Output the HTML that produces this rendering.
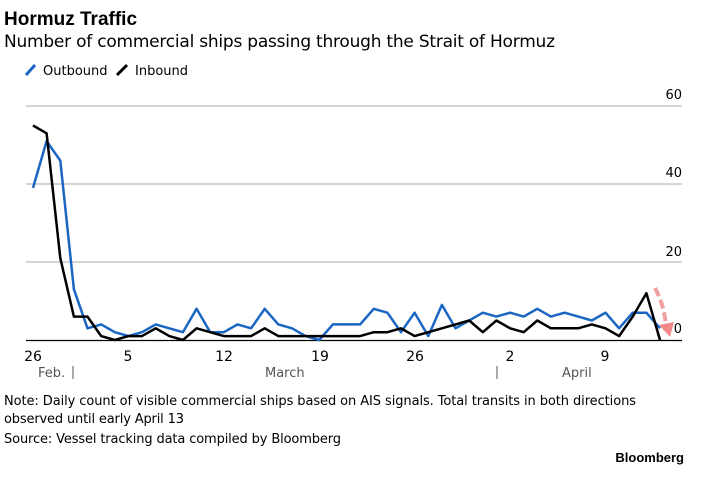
<!DOCTYPE html><html><head><style>body{margin:0;background:#fff;width:714px;height:473px;overflow:hidden;font-family:"Liberation Sans",sans-serif}</style></head><body>
<svg width="714" height="473" xmlns="http://www.w3.org/2000/svg" font-family="Liberation Sans, sans-serif">
<text x="4" y="25" font-size="19" font-weight="bold" fill="#000">Hormuz Traffic</text>
<text x="4" y="47" font-size="17" fill="#000" font-family="DejaVu Sans, sans-serif" textLength="551">Number of commercial ships passing through the Strait of Hormuz</text>
<line x1="26" y1="75" x2="35" y2="65" stroke="#1a66c2" stroke-width="3"/>
<text x="43" y="75" font-size="13" font-family="DejaVu Sans, sans-serif">Outbound</text>
<line x1="117" y1="75" x2="127" y2="65" stroke="#000" stroke-width="3"/>
<text x="135" y="75" font-size="13" font-family="DejaVu Sans, sans-serif">Inbound</text>
<g stroke="#bbb" stroke-width="1.3"><line x1="26" y1="106" x2="682" y2="106"/><line x1="26" y1="184" x2="682" y2="184"/><line x1="26" y1="262" x2="682" y2="262"/></g>
<g font-size="13" font-family="DejaVu Sans, sans-serif" text-anchor="end"><text x="682" y="99">60</text><text x="682" y="177">40</text><text x="682" y="256">20</text><text x="682" y="333">0</text></g>
<line x1="26" y1="340.5" x2="682" y2="340.5" stroke="#000" stroke-width="1.3"/>
<g id="t" stroke="#000" stroke-width="1"></g>
<g font-size="14" font-family="DejaVu Sans, sans-serif" text-anchor="middle"><text x="33" y="361">26</text><text x="128" y="361">5</text><text x="224" y="361">12</text><text x="320" y="361">19</text><text x="415" y="361">26</text><text x="510" y="361">2</text><text x="605" y="361">9</text></g>
<g font-size="13" font-family="DejaVu Sans, sans-serif" fill="#555"><text x="38" y="377">Feb.</text><text x="265" y="377">March</text><text x="562" y="377">April</text></g>
<line x1="73" y1="366" x2="73" y2="379" stroke="#555"/><line x1="497" y1="366" x2="497" y2="379" stroke="#555"/>
<polyline id="b" fill="none" stroke="#1a66c2" stroke-width="2.5" stroke-linejoin="round"/>
<polyline id="k" fill="none" stroke="#000" stroke-width="2.5" stroke-linejoin="round"/>
<path d="M655 288 Q664 305 666 325" stroke="#e88" stroke-width="4" stroke-dasharray="9,4" fill="none" opacity="0.8"/>
<polygon points="659,325 674,322 670,337" fill="#e77" opacity="0.85"/>
<g font-size="13" font-family="DejaVu Sans, sans-serif"><text x="4" y="405" textLength="632">Note: Daily count of visible commercial ships based on AIS signals. Total transits in both directions</text><text x="4" y="423" textLength="180">observed until early April 13</text><text x="4" y="443" textLength="337">Source: Vessel tracking data compiled by Bloomberg</text></g>
<text x="684" y="462" font-size="13" font-weight="bold" text-anchor="end">Bloomberg</text>
<script>
var B=[39,51,46,13,3,4,2,1,2,4,3,2,8,2,2,4,3,8,4,3,1,0,4,4,4,8,7,2,7,1,9,3,5,7,6,7,6,8,6,7,6,5,7,3,7,7,3];
var K=[55,53,21,6,6,1,0,1,1,3,1,0,3,2,1,1,1,3,1,1,1,1,1,1,1,2,2,3,1,2,3,4,5,2,5,3,2,5,3,3,3,4,3,1,6,12,0];
function p(a){return a.map(function(v,i){return (33+i*13.63).toFixed(1)+','+(340-v*3.9).toFixed(1)}).join(' ')}
document.getElementById('b').setAttribute('points',p(B));
document.getElementById('k').setAttribute('points',p(K));
var t='';for(var i=0;i<47;i++){var x=33+i*13.63;t+='<line x1="'+x+'" y1="340" x2="'+x+'" y2="345"/>';}
document.getElementById('t').innerHTML=t;
</script>
</svg></body></html>
